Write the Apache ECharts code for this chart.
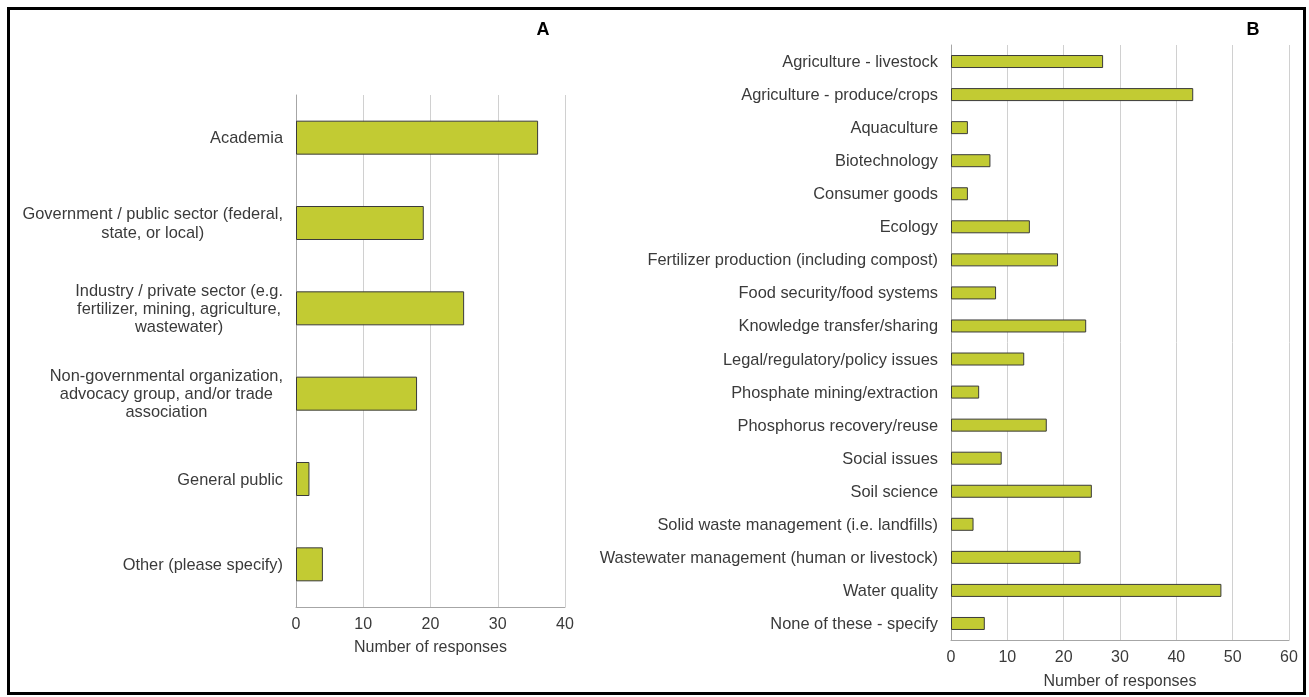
<!DOCTYPE html>
<html>
<head>
<meta charset="utf-8">
<script src="https://cdn.jsdelivr.net/npm/echarts@6/dist/echarts.min.js"></script>
<style>html,body{margin:0;padding:0;background:#fff}#c{width:1309px;height:697px}</style>
</head>
<body>
<div id="c"></div>
<script>
const catsA = [
  "Academia",
  "Government / public sector (federal,\nstate, or local)",
  "Industry / private sector (e.g.\nfertilizer, mining, agriculture,\nwastewater)",
  "Non-governmental organization,\nadvocacy group, and/or trade\nassociation",
  "General public",
  "Other (please specify)"
];
const valsA = [36, 19, 25, 18, 2, 4];

const catsB = [
  "Agriculture - livestock",
  "Agriculture - produce/crops",
  "Aquaculture",
  "Biotechnology",
  "Consumer goods",
  "Ecology",
  "Fertilizer production (including compost)",
  "Food security/food systems",
  "Knowledge transfer/sharing",
  "Legal/regulatory/policy issues",
  "Phosphate mining/extraction",
  "Phosphorus recovery/reuse",
  "Social issues",
  "Soil science",
  "Solid waste management (i.e. landfills)",
  "Wastewater management (human or livestock)",
  "Water quality",
  "None of these - specify"
];
const valsB = [27, 43, 3, 7, 3, 14, 19, 8, 24, 13, 5, 17, 9, 25, 4, 23, 48, 6];

const ticksA = { min: 0, max: 40, interval: 10 };
const ticksB = { min: 0, max: 60, interval: 10 };

const FONT = "Liberation Sans, Arial, sans-serif";
const TXT = "#3a3a3a";
const BAR = "#C2CB33";

const chart = echarts.init(document.getElementById('c'), null, { renderer: 'canvas' });

function catLabel(v) {
  return v.split('\n').map(l => '{c|' + l + '}').join('\n');
}

const xAxisCommon = {
  type: 'value',
  axisLine: { show: true, lineStyle: { color: '#a6a6a6', width: 1 } },
  axisTick: { show: false },
  splitLine: { show: true, lineStyle: { color: '#d0d0d0', width: 1 } },
  axisLabel: { color: TXT, fontSize: 16, fontFamily: FONT, margin: 10 },
  name: 'Number of responses',
  nameLocation: 'middle',
  nameTextStyle: { color: TXT, fontSize: 16, fontFamily: FONT }
};

const yAxisCommon = {
  type: 'category',
  inverse: true,
  axisLine: { show: true, lineStyle: { color: '#a6a6a6', width: 1 } },
  axisTick: { show: false },
  splitLine: { show: false },
  axisLabel: {
    color: TXT, fontSize: 16.4, fontFamily: FONT, margin: 13, interval: 0,
    formatter: catLabel,
    rich: { c: { align: 'center', color: TXT, fontSize: 16.4, fontFamily: FONT, lineHeight: 18.3, padding: [2, 0, 0, 0] } }
  }
};

chart.setOption({
  animation: false,
  backgroundColor: '#fff',
  grid: [
    { left: 296, right: 744, top: 95, bottom: 90 },
    { left: 951, right: 20, top: 45, bottom: 57 }
  ],
  xAxis: [
    Object.assign({}, xAxisCommon, { gridIndex: 0, min: ticksA.min, max: ticksA.max, interval: ticksA.interval, nameGap: 33 }),
    Object.assign({}, xAxisCommon, { gridIndex: 1, min: ticksB.min, max: ticksB.max, interval: ticksB.interval, nameGap: 34 })
  ],
  yAxis: [
    Object.assign({}, yAxisCommon, { gridIndex: 0, data: catsA }),
    Object.assign({}, yAxisCommon, { gridIndex: 1, data: catsB })
  ],
  series: [
    { type: 'bar', xAxisIndex: 0, yAxisIndex: 0, data: valsA, barWidth: 34,
      itemStyle: { color: BAR, borderColor: '#3a3a3a', borderWidth: 1 } },
    { type: 'bar', xAxisIndex: 1, yAxisIndex: 1, data: valsB, barWidth: 13,
      itemStyle: { color: BAR, borderColor: '#3a3a3a', borderWidth: 1 } }
  ],
  graphic: [
    { type: 'rect', shape: { x: 8.5, y: 8.5, width: 1296, height: 685 },
      style: { fill: 'none', stroke: '#000', lineWidth: 3 }, silent: true },
    { type: 'text', x: 543, y: 30, style: { text: 'A', font: 'bold 18px ' + FONT, fill: '#000', textAlign: 'center', textVerticalAlign: 'middle' } },
    { type: 'text', x: 1253, y: 30, style: { text: 'B', font: 'bold 18px ' + FONT, fill: '#000', textAlign: 'center', textVerticalAlign: 'middle' } }
  ]
});
</script>
</body>
</html>
